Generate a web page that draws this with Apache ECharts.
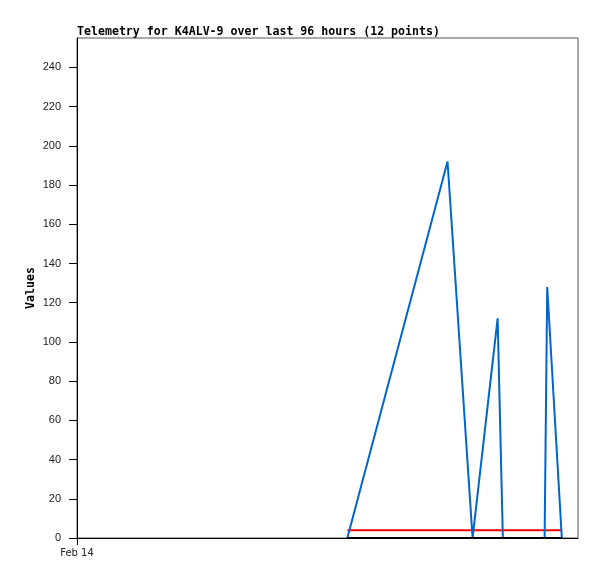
<!DOCTYPE html>
<html><head><meta charset="utf-8">
<script src="https://cdn.jsdelivr.net/npm/echarts@6/dist/echarts.min.js"></script>
<style>html,body{margin:0;padding:0;background:#fff}#c{width:597px;height:579px}</style>
</head><body><div id="c"></div>
<script>
// hours since start of 96-hour window (Feb 14)
const hours = [51.8, 71.0, 75.8, 80.6, 81.6, 89.6, 90.1, 92.9];
const blueValues = [0, 192, 0, 112, 0, 0, 128, 0];
const redValues = [4, 4, 4, 4, 4, 4, 4, 4];
const blackValues = [0, 0, 0, 0, 0, 0, 0, 0];
const yTicks = [0, 20, 40, 60, 80, 100, 120, 140, 160, 180, 200, 220, 240];
const xTickLabels = {0: 'Feb 14'};

const pts = v => hours.map((h, i) => [h, v[i]]);
const chart = echarts.init(document.getElementById('c'), null, {renderer: 'canvas'});
chart.setOption({
  animation: false,
  title: {
    text: 'Telemetry for K4ALV-9 over last 96 hours (12 points)',
    left: 72, top: 21,
    textStyle: {fontFamily: 'DejaVu Sans Mono', fontWeight: 'bold', fontSize: 11.6, color: '#000'}
  },
  grid: {left: 77, top: 38, right: 19, bottom: 41, show: true, borderColor: '#555', borderWidth: 1, backgroundColor: '#fff'},
  xAxis: {
    type: 'value', min: 0, max: 96,
    axisLine: {show: true, lineStyle: {color: '#000', width: 1}},
    axisTick: {show: true, length: 7, customValues: [0], lineStyle: {color: '#000'}},
    axisLabel: {customValues: [0], formatter: v => xTickLabels[v] || '', fontFamily: 'DejaVu Sans', fontSize: 10, color: '#222', margin: 10},
    splitLine: {show: false}
  },
  yAxis: {
    type: 'value', min: 0, max: 255,
    name: 'Values', nameLocation: 'middle', nameGap: 40, nameRotate: 90, nameMoveOverlap: false,
    nameTextStyle: {fontFamily: 'DejaVu Sans Mono', fontWeight: 'bold', fontSize: 11.6, color: '#000'},
    axisLine: {show: true, lineStyle: {color: '#000', width: 1}},
    axisTick: {show: true, length: 8, customValues: yTicks, lineStyle: {color: '#000'}},
    axisLabel: {customValues: yTicks, fontFamily: 'Liberation Sans', fontSize: 11, color: '#222', margin: 16},
    splitLine: {show: false}
  },
  series: [
    {type: 'line', data: pts(redValues), symbol: 'none', lineStyle: {color: '#ff0000', width: 2}},
    {type: 'line', data: pts(blueValues), symbol: 'none', lineStyle: {color: '#0066cc', width: 2}},
    {type: 'line', data: pts(blackValues), symbol: 'none', lineStyle: {color: '#000', width: 2}}
  ]
});
</script></body></html>
